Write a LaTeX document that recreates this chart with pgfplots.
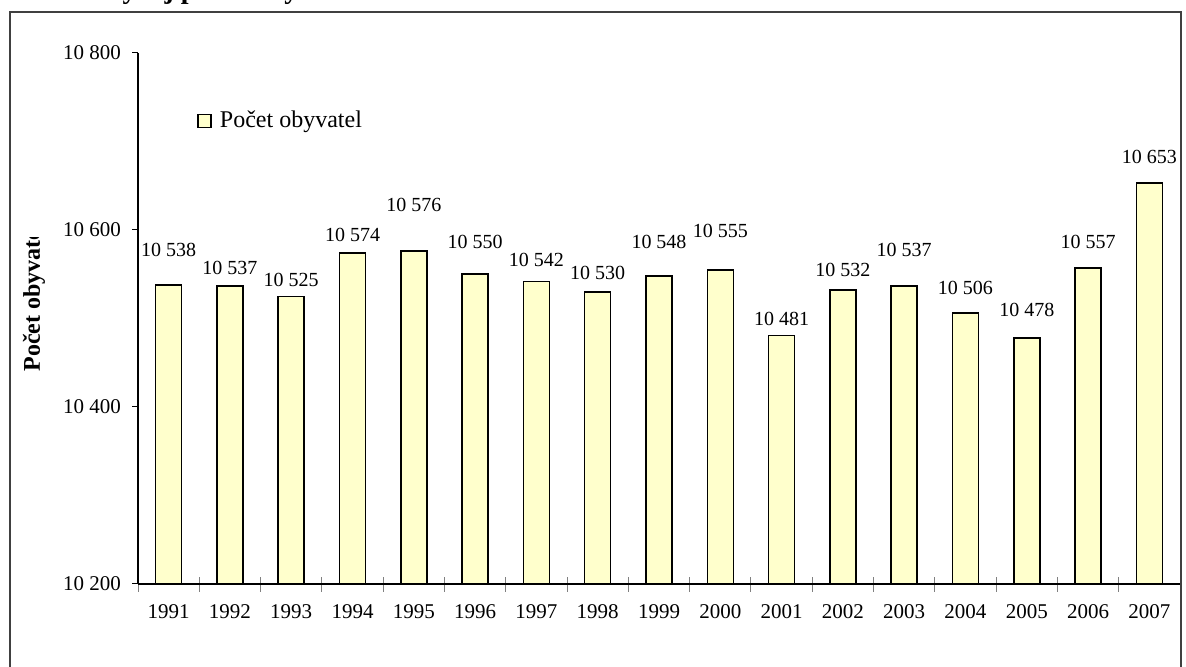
\documentclass[border=0pt]{standalone}
\usepackage{pgfplots}
\pgfplotsset{compat=1.18}
\usepackage{fontspec}
\setmainfont{Liberation Serif}
\definecolor{barfill}{HTML}{FFFFCC}
\definecolor{framecol}{HTML}{404040}

% label y positions are moved by hand, as in the original chart
\pgfplotstableread{
x  y      ly
0  10538  10577
1  10537  10557
2  10525  10543
3  10574  10594
4  10576  10628
5  10550  10586
6  10542  10566
7  10530  10552
8  10548  10586
9  10555  10599
10 10481  10500
11 10532  10555
12 10537  10577
13 10506  10534
14 10478  10510
15 10557  10586
16 10653  10682
}\pop

\begin{document}
\begin{tikzpicture}
  \begin{axis}[
    at={(69pt,41.5pt)}, anchor=south west,
    scale only axis,
    width=521pt, height=265.5pt,
    xmin=-0.5, xmax=16.5,
    ymin=10200, ymax=10800,
    ytick={10200,10400,10600,10800},
    scaled y ticks=false,
    xtick={0,...,16},
    xticklabels={1991,1992,1993,1994,1995,1996,1997,1998,1999,2000,2001,2002,2003,2004,2005,2006,2007},
    minor xtick={-0.5,0.5,...,16.5},
    axis x line*=bottom,
    axis y line*=left,
    axis line style={-, line width=0.75pt},
    tick align=outside,
    major tick length=3pt,
    minor tick length=7.5pt,
    major x tick style={draw=none},
    minor x tick style={line width=0.5pt, yshift=3.5pt},
    major y tick style={line width=0.5pt, black},
    /pgf/number format/assume math mode=true,
    /pgf/number format/1000 sep={\ },
    tick label style={font=\fontsize{10.5}{12}\selectfont},
    xticklabel style={anchor=base, yshift=-14.5pt},
    yticklabel style={xshift=-2pt},
    legend style={draw=none, fill=none, inner sep=0pt,
      at={(0.0566,0.872)}, anchor=west,
      font=\fontsize{12}{14}\selectfont},
    legend image code/.code={%
      \draw[#1, line width=0.6pt] (0pt,-3.25pt) rectangle (6.5pt,3.25pt);
      \path[draw=none, fill=none] (6.5pt,0pt) -- (9pt,0pt);},
  ]
  \addplot[ybar, bar width=13pt, bar shift=0pt, fill=barfill, draw=black, line width=0.75pt]
    table[x=x, y=y] \pop;
  \addlegendentry{Počet obyvatel}

  \addplot[draw=none, mark=none, forget plot,
    point meta=explicit,
    nodes near coords,
    nodes near coords align={center},
    every node near coord/.style={font=\fontsize{10}{12}\selectfont, anchor=center, inner sep=0pt}]
    table[x=x, y=ly, meta=y] \pop;
  \end{axis}

  % outer frame of the chart, open at the bottom
  \draw[framecol, line width=0.75pt] (5pt,-5pt) -- (5pt,327.5pt) -- (590.5pt,327.5pt) -- (590.5pt,-5pt);

  % axis title, cut off at the top as in the original
  \begin{scope}
    \clip (0pt,0pt) rectangle (68pt,214.5pt);
    \node[rotate=90, anchor=base west, inner sep=0pt, font=\bfseries\fontsize{12}{14}\selectfont]
      at (20pt,147.5pt) {Počet obyvatel};
  \end{scope}

  % chart title, mostly above the page
  \node[anchor=base west, inner sep=0pt, font=\bfseries\fontsize{14}{16}\selectfont]
    at (51pt,334pt) {Vývoj počtu obyvatel};

  \pgfresetboundingbox
  \useasboundingbox (0pt,0pt) rectangle (593pt,333.5pt);
\end{tikzpicture}
\end{document}
